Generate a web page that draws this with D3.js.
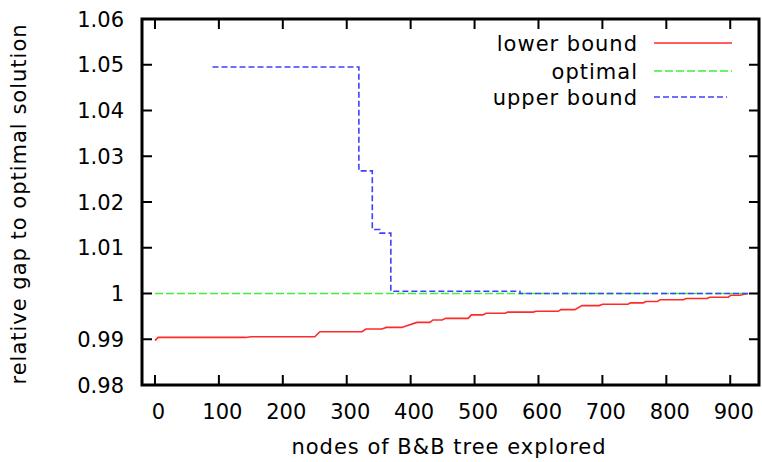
<!DOCTYPE html>
<meta charset="utf-8">
<style>
body { margin: 0; background: #fff; }
svg { display: block; }
text { font-family: "DejaVu Sans", sans-serif; font-size: 21px; fill: #000; }
.wide { letter-spacing: 1px; }
</style>
<body>
<script src="https://d3js.org/d3.v7.min.js"></script>
<script>
// data
var xTicks = [0, 100, 200, 300, 400, 500, 600, 700, 800, 900];
var yTicks = [0.98, 0.99, 1.00, 1.01, 1.02, 1.03, 1.04, 1.05, 1.06];
var yTickLabels = ["0.98", "0.99", "1", "1.01", "1.02", "1.03", "1.04", "1.05", "1.06"];

var lowerNodes = [0, 5, 142, 150, 250, 258, 324, 330, 355, 362, 386, 410, 430, 435, 449, 455, 490, 495, 513, 518, 548, 552, 592, 596, 631, 635, 657, 668, 695, 700, 740, 744, 764, 768, 786, 790, 827, 831, 864, 868, 897, 901, 915, 928];
var lowerValue = [0.9897, 0.9904, 0.9904, 0.99055, 0.99055, 0.99165, 0.99165, 0.99224, 0.99224, 0.99259, 0.99259, 0.99369, 0.99369, 0.99422, 0.99422, 0.99457, 0.99457, 0.99532, 0.99532, 0.99567, 0.99567, 0.99593, 0.99593, 0.99611, 0.99611, 0.99648, 0.99648, 0.99736, 0.99736, 0.99765, 0.99765, 0.99796, 0.99796, 0.99824, 0.99824, 0.99862, 0.99862, 0.9989, 0.9989, 0.99919, 0.99919, 0.99963, 0.99963, 1.0];

var optimalNodes = [0, 928];
var optimalValue = [1.0, 1.0];

var upperNodes = [90, 319, 319, 340, 340, 352, 352, 369, 369, 571, 571, 928];
var upperValue = [1.0495, 1.0495, 1.0268, 1.0268, 1.0140, 1.0140, 1.0132, 1.0132, 1.0005, 1.0005, 1.0, 1.0];

var seriesNames = ["lower bound", "optimal", "upper bound"];
var seriesColors = ["#ff2a2a", "#3cf03c", "#4040ff"];
var seriesDash = [null, "8,3", "6,3"];

var W = 762, H = 462;
var margin = {top: 19, right: 3, bottom: 77, left: 142};
var width = W - margin.left - margin.right,
    height = H - margin.top - margin.bottom;

var svg = d3.select("body").append("svg")
    .attr("width", W)
    .attr("height", H);

var g = svg.append("g")
    .attr("transform", "translate(" + margin.left + "," + margin.top + ")");

var x = d3.scaleLinear().domain([-20.3, 945]).range([0, width]);
var y = d3.scaleLinear().domain([0.98, 1.06]).range([height, 0]);

// ticks, inward on all four sides (mirrored)
var tickLen = 10;
g.selectAll(".xt").data(xTicks).enter().append("path")
    .attr("d", function(d) {
      var px = x(d);
      return "M" + px + "," + height + "v" + (-tickLen) + "M" + px + ",0v" + tickLen;
    })
    .attr("stroke", "#000").attr("stroke-width", 2);

g.selectAll(".yt").data(yTicks).enter().append("path")
    .attr("d", function(d) {
      var py = y(d);
      return "M0," + py + "h" + tickLen + "M" + width + "," + py + "h" + (-tickLen);
    })
    .attr("stroke", "#000").attr("stroke-width", 2);

// tick labels
g.selectAll(".xl").data(xTicks).enter().append("text")
    .attr("x", function(d) { return x(d) + 3.5; })
    .attr("y", height + 34)
    .attr("text-anchor", "middle")
    .text(function(d) { return d; });

g.selectAll(".yl").data(yTicks).enter().append("text")
    .attr("x", -18)
    .attr("y", function(d) { return y(d) + 7.5; })
    .attr("text-anchor", "end")
    .text(function(d, i) { return yTickLabels[i]; });

// axis titles
svg.append("text")
    .attr("class", "wide")
    .attr("x", 449)
    .attr("y", 454)
    .attr("text-anchor", "middle")
    .text("nodes of B&B tree explored");

svg.append("text")
    .attr("class", "wide")
    .attr("transform", "translate(26,204) rotate(-90)")
    .attr("text-anchor", "middle")
    .text("relative gap to optimal solution");

// lines
var line = d3.line()
    .x(function(d) { return x(d[0]); })
    .y(function(d) { return y(d[1]); });

var series = [
  d3.zip(lowerNodes, lowerValue),
  d3.zip(optimalNodes, optimalValue),
  d3.zip(upperNodes, upperValue)
];

series.forEach(function(s, i) {
  g.append("path")
      .datum(s)
      .attr("fill", "none")
      .attr("stroke", seriesColors[i])
      .attr("stroke-width", 1.6)
      .attr("stroke-dasharray", seriesDash[i])
      .attr("d", line);
});

// legend
var legendY = [43, 71, 97];
var leg = svg.append("g");
seriesNames.forEach(function(name, i) {
  leg.append("text")
      .attr("class", "wide")
      .attr("x", 638)
      .attr("y", legendY[i] + 8)
      .attr("text-anchor", "end")
      .text(name);
  leg.append("line")
      .attr("x1", 654).attr("x2", i == 2 ? 727 : 732)
      .attr("y1", legendY[i]).attr("y2", legendY[i])
      .attr("stroke", seriesColors[i])
      .attr("stroke-width", 1.6)
      .attr("stroke-dasharray", seriesDash[i]);
});

// border
g.append("rect")
    .attr("width", width)
    .attr("height", height)
    .attr("fill", "none")
    .attr("stroke", "#000")
    .attr("stroke-width", 3);
</script>
</body>
